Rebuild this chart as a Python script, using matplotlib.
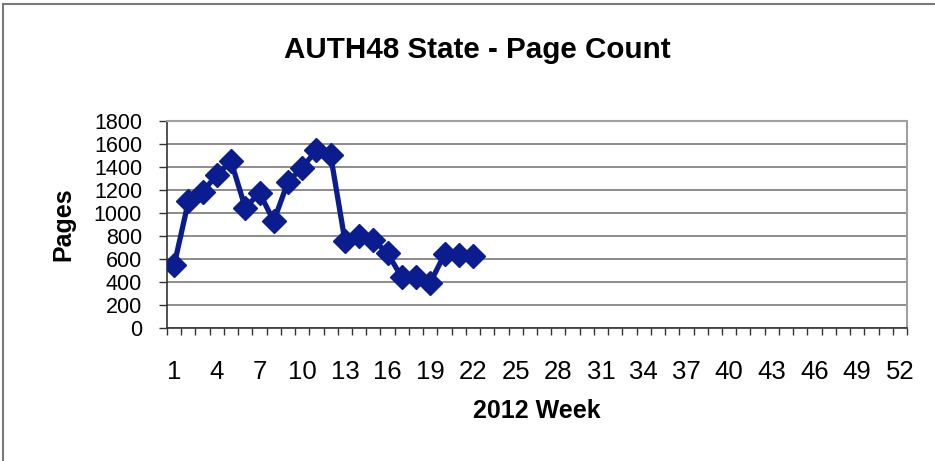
import numpy as np
import matplotlib.pyplot as plt
from matplotlib.lines import Line2D
from matplotlib.ticker import FixedLocator

plt.rcParams['font.family'] = ['Liberation Sans', 'DejaVu Sans']

# Weekly page counts for 2012 (weeks 1-22 reported)
weeks = list(range(1, 23))
pages = [545, 1100, 1185, 1330, 1450, 1045, 1175, 930, 1270, 1395,
         1545, 1500, 760, 800, 765, 650, 440, 445, 395, 640, 635, 630]

week_ticks = list(range(1, 53, 3))
y_ticks = list(range(0, 1801, 200))

fig = plt.figure(figsize=(9.35, 4.61), dpi=100)
ax = fig.add_axes([167 / 935, 1 - 328 / 461, 740 / 935, 207 / 461])

ax.plot(weeks, pages, color='#0A1C8E', linewidth=3.8, marker='D',
        markersize=12, markerfacecolor='#0A1C8E', markeredgecolor='#0A1C8E',
        zorder=3)

ax.set_xlim(0.5, 52.5)
ax.set_ylim(0, 1800)
ax.set_yticks(y_ticks)
ax.yaxis.grid(True, color='#6E6E6E', linewidth=1.1)
ax.set_axisbelow(True)

# category-style x axis: labels every 3 weeks, ticks at category borders
ax.set_xticks(week_ticks)
ax.xaxis.set_minor_locator(FixedLocator(np.arange(0.5, 53, 1)))
ax.tick_params(axis='x', which='major', length=0, pad=23, labelsize=18.5)
ax.tick_params(axis='x', which='minor', length=5, width=1, color='#333333')
ax.tick_params(axis='y', which='major', length=6, width=1, pad=12,
               labelsize=15.5, color='#333333')

for side in ['top', 'right']:
    ax.spines[side].set_color('#A0A0A0')
    ax.spines[side].set_linewidth(1.5)
for side in ['left', 'bottom']:
    ax.spines[side].set_color('#333333')
    ax.spines[side].set_linewidth(1.2)

ax.set_xlabel('2012 Week', fontsize=18, fontweight='bold', labelpad=11)
ax.set_ylabel('Pages', fontsize=18, fontweight='bold', labelpad=13)
fig.text(477 / 935, 1 - 50 / 461, 'AUTH48 State - Page Count', ha='center',
         va='center', fontsize=21.3, fontweight='bold')

# outer chart border (left and top visible)
fig.add_artist(Line2D([3 / 935, 3 / 935], [0, 1 - 4 / 461],
                      transform=fig.transFigure, color='#7A7A7A', linewidth=1.5))
fig.add_artist(Line2D([3 / 935, 1], [1 - 4 / 461, 1 - 4 / 461],
                      transform=fig.transFigure, color='#7A7A7A', linewidth=1.5))

fig.savefig('out.png', dpi=100)
